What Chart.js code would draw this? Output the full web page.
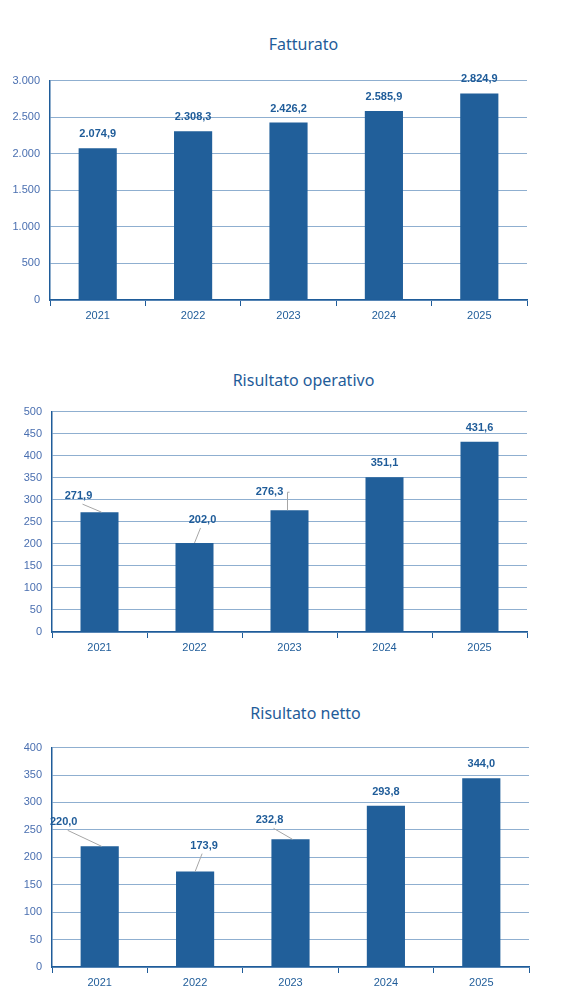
<!DOCTYPE html><html><head><meta charset="utf-8">
<script src="https://cdn.jsdelivr.net/npm/chart.js@4"></script>
<style>body{margin:0;background:#fff;width:579px;height:1006px;position:relative;overflow:hidden}
.c{position:absolute;left:0;width:579px}
.t{position:absolute;left:0;width:579px;text-align:center;font:16px 'Noto Sans';color:#1F5C99;line-height:20px}</style></head><body>
<div class="t" style="top:34px;left:14px">Fatturato</div>
<div class="t" style="top:370px;left:14px">Risultato operativo</div>
<div class="t" style="top:703px;left:16px">Risultato netto</div>
<div class="c" style="top:64px;height:266px"><canvas id="c1"></canvas></div>
<div class="c" style="top:395px;height:267px"><canvas id="c2"></canvas></div>
<div class="c" style="top:731px;height:266px"><canvas id="c3"></canvas></div>
<script>
const categories=['2021','2022','2023','2024','2025'];
const fatturato=[2074.9,2308.3,2426.2,2585.9,2824.9];
const risultatoOperativo=[271.9,202.0,276.3,351.1,431.6];
const risultatoNetto=[220.0,173.9,232.8,293.8,344.0];
const maxes=[3000,500,400], steps=[500,50,50];
const yW=[50,52,52], padR=[52,52,50];
const offs=[
 [[0,-14,0],[0,-14,0],[0,-14,0],[0,-14,0],[0,-14,0]],
 [[-21,-16,1],[8,-23,1],[-20,-18,2],[0,-14,0],[0,-14,0]],
 [[-36,-24,1],[9,-26,1],[-21,-19,1],[0,-14,0],[0,-14,0]]
];
const fmt=v=>v.toLocaleString('it-IT',{minimumFractionDigits:1,maximumFractionDigits:1});
const fmtT=v=>v.toLocaleString('it-IT');
const blue='#215F9A';
function mk(id,data,i){
 new Chart(document.getElementById(id),{type:'bar',
 data:{labels:categories,datasets:[{data,backgroundColor:blue,barPercentage:0.4,categoryPercentage:1}]},
 options:{responsive:true,maintainAspectRatio:false,animation:false,
  layout:{padding:{left:0,right:padR[i],top:8,bottom:0}},
  plugins:{legend:{display:false},tooltip:{enabled:false},title:{display:false}},
  scales:{
   x:{afterFit:s=>{s.height=30},grid:{display:true,drawOnChartArea:false,color:'#1F5C99',tickLength:6,offset:true},border:{color:'#1F5C99',width:1.5},
      ticks:{color:'#1F5C99',font:{family:'Liberation Sans',size:11},padding:3}},
   y:{afterFit:s=>{s.width=yW[i]},min:0,max:maxes[i],grid:{color:'#8FAFD0',drawTicks:false},border:{color:'#1F5C99',width:1.5},
      ticks:{stepSize:steps[i],color:'#4A6FB0',font:{family:'Liberation Sans',size:11},padding:10,callback:v=>fmtT(v)}}}
 },
 plugins:[{id:'lbl',afterDatasetsDraw(ch){
  const c=ch.ctx;const m=ch.getDatasetMeta(0);
  c.save();c.font='bold 11px Liberation Sans';c.fillStyle='#1F5C99';c.textAlign='center';c.textBaseline='middle';
  m.data.forEach((b,j)=>{const [dx,dy,l]=offs[i][j];const lx=b.x+dx,ly=b.y+dy;
   if(l){c.strokeStyle='#A6A6A6';c.lineWidth=1;c.beginPath();
    if(l===2){c.moveTo(lx+20,ly);c.lineTo(b.x-2,ly);c.lineTo(b.x-2,b.y);}
    else{c.moveTo(lx+(dx<0?4:-2),ly+8);c.lineTo(b.x+(dx<0?2:0),b.y);}
    c.stroke();}
   c.fillText(fmt(data[j]),lx,ly);});
  c.restore();}}]
 });
}
mk('c1',fatturato,0);mk('c2',risultatoOperativo,1);mk('c3',risultatoNetto,2);
</script></body></html>
